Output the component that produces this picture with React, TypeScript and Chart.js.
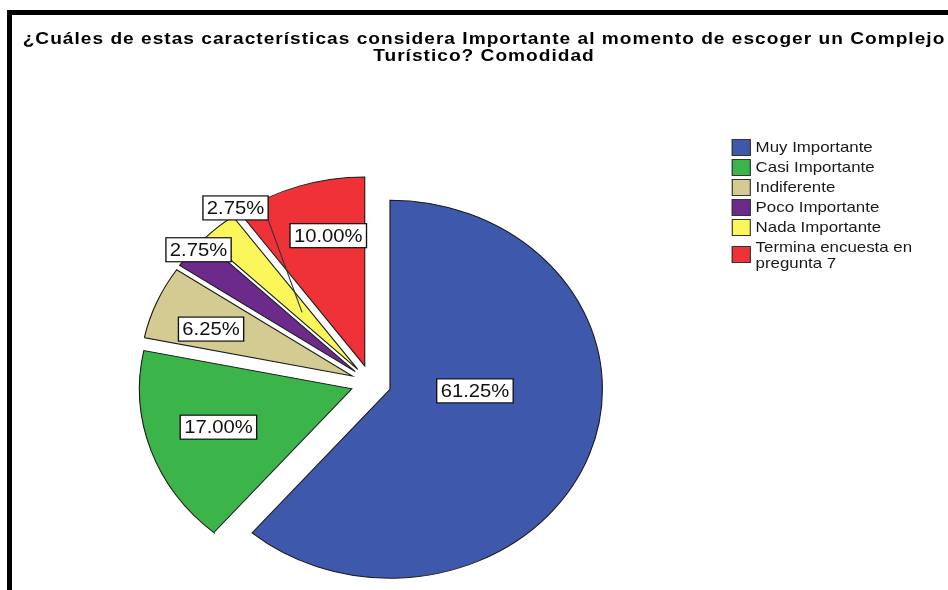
import React, { useEffect, useRef } from "react";
import { Chart, registerables } from "chart.js";

Chart.register(...registerables);

const titleLines = [
  "¿Cuáles de estas características considera Importante al momento de escoger un Complejo",
  "Turístico? Comodidad",
];
const categories = [
  "Muy Importante",
  "Casi Importante",
  "Indiferente",
  "Poco Importante",
  "Nada Importante",
  "Termina encuesta en pregunta 7",
];
const percentages = [61.25, 17.0, 6.25, 2.75, 2.75, 10.0];
const sliceColors = ["#3e58ac", "#3bb44a", "#d3cb92", "#6c2a8a", "#fbf75a", "#ee3238"];

// presentation constants
const SX = 1.124; // horizontal stretch of the original picture
const PAGE_W = 948;
const PAGE_H = 590;
const CENTER_X = 371;
const CENTER_Y = 383;
const RADIUS = 189;
const EXPLODE = 18;
const FONT = "'Liberation Sans', Arial, Helvetica, sans-serif";
// label placement relative to each slice: angle shift from mid-angle (deg), radius fraction, leader target
const labelPlacement = [
  { da: -19, f: 0.4 },
  { da: 1, f: 0.66 },
  { da: -2.5, f: 0.71 },
  { da: 2, f: 0.98 },
  { da: 7, f: 1.03, leader: 0.4 },
  { da: 4, f: 0.71 },
];

const stretchPlugin = {
  id: "stretch",
  beforeDraw(chart: any) {
    chart.ctx.save();
    chart.ctx.scale(SX, 1);
  },
  afterDraw(chart: any) {
    chart.ctx.restore();
  },
};

const explodePlugin = {
  id: "explode",
  beforeDatasetDraw(chart: any, args: any) {
    const ctx = chart.ctx;
    args.meta.data.forEach((arc: any) => {
      const mid = (arc.startAngle + arc.endAngle) / 2;
      ctx.save();
      ctx.translate(Math.cos(mid) * EXPLODE, Math.sin(mid) * EXPLODE);
      arc.draw(ctx);
      ctx.restore();
    });
    return false;
  },
};

const labelPlugin = {
  id: "sliceLabels",
  afterDatasetsDraw(chart: any) {
    const ctx = chart.ctx;
    const meta = chart.getDatasetMeta(0);
    const values = chart.data.datasets[0].data as number[];
    ctx.save();
    ctx.font = `18px ${FONT}`;
    ctx.textAlign = "center";
    ctx.textBaseline = "middle";
    meta.data.forEach((arc: any, i: number) => {
      const p: any = labelPlacement[i];
      const mid = (arc.startAngle + arc.endAngle) / 2;
      const ax = arc.x + Math.cos(mid) * EXPLODE;
      const ay = arc.y + Math.sin(mid) * EXPLODE;
      const a = mid + (p.da * Math.PI) / 180;
      const r = p.f * arc.outerRadius;
      const lx = ax + Math.cos(a) * r;
      const ly = ay + Math.sin(a) * r;
      const text = values[i].toFixed(2) + "%";
      const w = ctx.measureText(text).width + 7;
      const h = 24;
      if (p.leader) {
        const tx = ax + Math.cos(mid) * p.leader * arc.outerRadius;
        const ty = ay + Math.sin(mid) * p.leader * arc.outerRadius;
        ctx.strokeStyle = "#333";
        ctx.lineWidth = 1;
        ctx.beginPath();
        ctx.moveTo(lx + w / 2, ly + h / 2);
        ctx.lineTo(tx, ty);
        ctx.stroke();
      }
      ctx.fillStyle = "#ffffff";
      ctx.fillRect(lx - w / 2, ly - h / 2, w, h);
      ctx.strokeStyle = "#111";
      ctx.lineWidth = 1.2;
      ctx.strokeRect(lx - w / 2, ly - h / 2, w, h);
      ctx.fillStyle = "#111";
      ctx.fillText(text, lx, ly + 1);
    });
    ctx.restore();
  },
};

export default function App() {
  const canvasRef = useRef<HTMLCanvasElement | null>(null);

  useEffect(() => {
    const canvas = canvasRef.current;
    if (!canvas) return;
    const chart = new Chart(canvas, {
      type: "pie",
      data: {
        labels: categories,
        datasets: [
          {
            data: percentages,
            backgroundColor: sliceColors,
            borderColor: "#1c1c1c",
            borderWidth: 1,
            borderJoinStyle: "miter",
            radius: RADIUS,
            clip: false,
          } as any,
        ],
      },
      options: {
        responsive: false,
        maintainAspectRatio: false,
        animation: false,
        events: [],
        layout: {
          padding: {
            left: 0,
            top: 2 * CENTER_Y - PAGE_H,
            bottom: 0,
            right: PAGE_W - (2 * CENTER_X) / SX,
          },
        },
        plugins: {
          legend: { display: false },
          title: { display: false },
          tooltip: { enabled: false },
        },
      } as any,
      plugins: [stretchPlugin, explodePlugin, labelPlugin],
    });
    return () => chart.destroy();
  }, []);

  return (
    <div
      style={{
        position: "fixed",
        left: 0,
        top: 0,
        width: PAGE_W,
        height: PAGE_H,
        background: "#fff",
        overflow: "hidden",
      }}
    >
      <div style={{ position: "absolute", left: 7, top: 10, right: 0, height: 5, background: "#000" }} />
      <div style={{ position: "absolute", left: 7, top: 10, width: 5, bottom: 0, background: "#000" }} />
      <canvas
        ref={canvasRef}
        width={PAGE_W}
        height={PAGE_H}
        style={{ position: "absolute", left: 0, top: 0, width: PAGE_W, height: PAGE_H }}
      />
      <div
        style={{
          position: "absolute",
          left: 0,
          top: 0,
          width: PAGE_W / SX,
          height: PAGE_H,
          transform: `scaleX(${SX})`,
          transformOrigin: "0 0",
          fontFamily: FONT,
          color: "#000",
        }}
      >
        <div
          style={{
            position: "absolute",
            left: 0,
            top: 31,
            width: (2 * 484) / SX,
            textAlign: "center",
            fontWeight: "bold",
            fontSize: 17,
            letterSpacing: "0.9px",
            lineHeight: "16.5px",
            whiteSpace: "nowrap",
          }}
        >
          {titleLines.map((t, i) => (
            <div key={i}>{t}</div>
          ))}
        </div>
        <div style={{ position: "absolute", left: 732 / SX, top: 138.5 }}>
          {categories.map((c, i) => (
            <div
              key={c}
              style={{ display: "flex", alignItems: "center", marginBottom: 3 }}
            >
              <div
                style={{
                  width: 15,
                  height: 15,
                  border: "1px solid #333",
                  background: sliceColors[i],
                  flex: "0 0 auto",
                }}
              />
              <div
                style={{
                  marginLeft: 4,
                  fontSize: 15,
                  lineHeight: "16px",
                  width: 150,
                  color: "#1a1a1a",
                }}
              >
                {c}
              </div>
            </div>
          ))}
        </div>
      </div>
    </div>
  );
}
